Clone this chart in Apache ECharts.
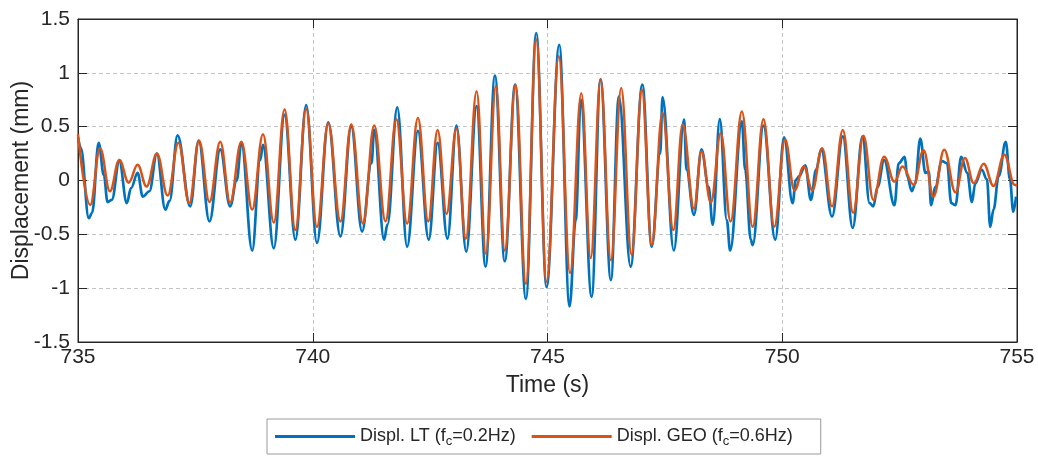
<!DOCTYPE html>
<html>
<head>
<meta charset="utf-8">
<script src="https://cdn.jsdelivr.net/npm/echarts@6/dist/echarts.min.js"></script>
<style>
html,body{margin:0;padding:0;background:#fff;}
#chart{width:1038px;height:456px;}
</style>
</head>
<body>
<div id="chart"></div>
<script>
// ---- Data ----
const xTicks = [735, 740, 745, 750, 755];
const yTicks = [-1.5, -1, -0.5, 0, 0.5, 1, 1.5];

const ltName = 'Displ. LT (fc=0.2Hz)';
const geoName = 'Displ. GEO (fc=0.6Hz)';

const ltT = [735.00,735.06,735.23,735.30,735.44,735.55,735.63,735.72,735.88,736.04,736.13,736.27,736.38,736.52,736.68,736.86,736.95,737.12,737.39,737.57,737.80,
738.03,738.24,738.38,738.48,738.71,738.88,738.94,739.17,739.40,739.63,739.86,740.09,740.33,740.59,740.82,741.05,741.25,741.31,741.52,741.59,741.80,742.01,742.24,742.47,742.66,742.87,743.06,743.27,743.49,743.68,743.88,
744.09,744.31,744.54,744.76,744.98,745.25,745.47,745.60,745.71,745.94,746.13,746.35,746.52,746.77,747.02,747.22,747.40,747.45,747.69,747.91,747.96,748.12,748.28,748.43,748.52,748.67,748.82,748.89,749.14,749.21,749.33,749.37,
749.60,749.85,750.04,750.22,750.29,750.36,750.49,750.61,750.72,750.83,751.06,751.29,751.50,751.71,751.86,751.94,752.03,752.17,752.39,752.48,752.61,752.66,752.76,752.83,752.94,753.05,753.12,753.17,753.26,753.40,753.51,753.60,753.69,753.81,753.94,754.04,754.11,754.25,754.36,754.43,754.50,754.61,754.76,754.85,754.92,754.98];
const ltY = [0.40,0.30,-0.35,-0.30,0.35,0.05,-0.20,-0.18,0.18,-0.21,-0.07,0.07,-0.15,-0.10,0.25,-0.27,-0.19,0.42,-0.24,0.37,-0.38,
0.29,-0.24,0.00,0.35,-0.65,0.19,0.33,-0.63,0.61,-0.55,0.70,-0.58,0.54,-0.52,0.50,-0.475,0.16,0.47,-0.55,-0.41,0.68,-0.615,0.46,-0.55,0.35,-0.54,0.51,-0.66,0.69,-0.80,0.975,
-0.75,0.89,-1.10,1.37,-0.99,1.26,-1.17,-0.37,0.75,-1.08,0.94,-0.925,0.78,-0.80,0.89,-0.615,0.25,0.775,-0.65,0.565,0.10,-0.32,0.29,-0.06,-0.41,0.57,-0.37,-0.65,0.55,0.10,-0.55,-0.60,
0.51,-0.55,0.40,-0.21,0.005,0.04,0.14,-0.18,0.10,0.29,-0.335,0.41,-0.44,0.41,-0.21,-0.24,-0.06,0.19,-0.23,0.16,0.22,0.04,-0.10,-0.03,0.39,0.07,0.085,-0.23,-0.06,0.18,0.16,-0.21,-0.23,0.22,0.07,-0.20,-0.03,0.10,0.01,-0.43,-0.27,0.04,0.36,0.01,-0.29,-0.15];

const geoT = [735.00,735.26,735.47,735.68,735.88,736.08,736.27,736.46,736.68,736.91,737.14,737.37,737.58,737.80,738.03,738.24,738.48,738.71,738.94,739.17,739.40,739.63,739.86,740.09,740.33,740.59,740.82,741.07,741.31,741.55,741.78,742.01,742.24,742.46,742.66,742.85,743.06,743.26,743.49,743.69,743.90,
744.09,744.32,744.54,744.76,744.98,745.24,745.48,745.72,745.92,746.13,746.35,746.57,746.79,747.01,747.22,747.45,747.68,747.88,748.12,748.28,748.48,748.69,748.90,749.14,749.37,749.60,749.83,750.06,750.26,750.46,750.64,750.85,751.06,751.29,751.51,751.73,751.94,752.17,752.39,752.56,752.80,753.01,753.22,753.45,753.69,753.89,754.08,754.29,754.50,754.73,754.95,755.00];
const geoY = [0.43,-0.227,0.30,-0.10,0.19,-0.02,0.146,-0.056,0.25,-0.14,0.35,-0.21,0.37,-0.20,0.36,-0.205,0.36,-0.27,0.43,-0.39,0.66,-0.46,0.665,-0.43,0.53,-0.38,0.52,-0.40,0.51,-0.38,0.57,-0.40,0.58,-0.38,0.47,-0.31,0.48,-0.54,0.83,-0.68,0.875,
-0.65,0.89,-0.96,1.31,-0.94,1.155,-0.86,0.81,-0.72,0.94,-0.74,0.86,-0.69,0.845,-0.60,0.63,-0.46,0.52,-0.26,0.27,-0.205,0.44,-0.38,0.64,-0.43,0.57,-0.43,0.38,-0.09,0.13,-0.09,0.30,-0.24,0.47,-0.30,0.415,-0.18,0.22,-0.01,0.13,-0.04,0.28,-0.15,0.285,-0.11,0.21,-0.025,0.155,-0.05,0.24,-0.04,-0.05];

// ---- Chart ----
const FONT = 'Liberation Sans, Arial, Helvetica, sans-serif';
const TXT = '#262626';
const pair = (t, y) => t.map((v, i) => [v, y[i]]);

const chart = echarts.init(document.getElementById('chart'), null, {renderer: 'canvas'});
const gridStyle = {show: true, lineStyle: {color: '#c4c4c4', width: 1, type: [4, 3]}};
const legendFmt = {
  [ltName]: '{a|Displ. LT (f}{s|c}{a|=0.2Hz)}',
  [geoName]: '{a|Displ. GEO (f}{s|c}{a|=0.6Hz)}'
};
const edgeAxis = {
  axisLine: {show: true, onZero: false, lineStyle: {color: '#262626'}},
  axisTick: {show: true, inside: true, length: 9, lineStyle: {color: '#262626'}},
  axisLabel: {show: false}, splitLine: {show: false}
};

chart.setOption({
  animation: false,
  backgroundColor: '#ffffff',
  grid: {left: 78, top: 19, width: 939, height: 323, show: true, borderColor: '#262626', borderWidth: 1,
         containLabel: false, outerBoundsMode: 'none'},
  xAxis: [{
    type: 'value', min: xTicks[0], max: xTicks[xTicks.length - 1], interval: 5,
    name: 'Time (s)', nameLocation: 'middle', nameGap: 32, nameMoveOverlap: false,
    nameTextStyle: {fontFamily: FONT, fontSize: 23, color: TXT},
    axisLine: {show: true, onZero: false, lineStyle: {color: '#262626'}},
    axisTick: {show: true, inside: true, length: 9, lineStyle: {color: '#262626'}},
    axisLabel: {fontFamily: FONT, fontSize: 21, color: TXT, margin: 5},
    splitLine: gridStyle
  }, Object.assign({
    type: 'value', position: 'top', min: xTicks[0], max: xTicks[xTicks.length - 1], interval: 5
  }, edgeAxis)],
  yAxis: [{
    type: 'value', min: yTicks[0], max: yTicks[yTicks.length - 1], interval: 0.5,
    name: 'Displacement (mm)', nameLocation: 'middle', nameGap: 45, nameRotate: 90, nameMoveOverlap: false,
    nameTextStyle: {fontFamily: FONT, fontSize: 23, color: TXT},
    axisLine: {show: true, onZero: false, lineStyle: {color: '#262626'}},
    axisTick: {show: true, inside: true, length: 9, lineStyle: {color: '#262626'}},
    axisLabel: {fontFamily: FONT, fontSize: 21, color: TXT, margin: 8},
    splitLine: gridStyle
  }, Object.assign({
    type: 'value', position: 'right', min: yTicks[0], max: yTicks[yTicks.length - 1], interval: 0.5
  }, edgeAxis)],
  legend: {
    left: 267, top: 419, orient: 'horizontal',
    padding: [6, 28, 6, 8], itemGap: 16,
    borderColor: '#9a9a9a', borderWidth: 1,
    itemWidth: 80, itemHeight: 3, icon: 'rect',
    data: [ltName, geoName],
    formatter: n => legendFmt[n],
    textStyle: {
      fontFamily: FONT, color: TXT,
      rich: {
        a: {fontFamily: FONT, fontSize: 18, color: TXT, lineHeight: 22},
        s: {fontFamily: FONT, fontSize: 13, color: TXT, lineHeight: 22, padding: [10, 0, 0, 0]}
      }
    }
  },
  series: [{
    name: ltName, type: 'line', data: pair(ltT, ltY), showSymbol: false,
    smooth: 0.38, smoothMonotone: 'x', color: '#0072BD', lineStyle: {width: 2.7, color: '#0072BD'}, z: 2
  }, {
    name: geoName, type: 'line', data: pair(geoT, geoY), showSymbol: false,
    smooth: 0.4, smoothMonotone: 'x', color: '#D95319', lineStyle: {width: 2.5, color: '#D95319'}, z: 3
  }]
});
</script>
</body>
</html>
